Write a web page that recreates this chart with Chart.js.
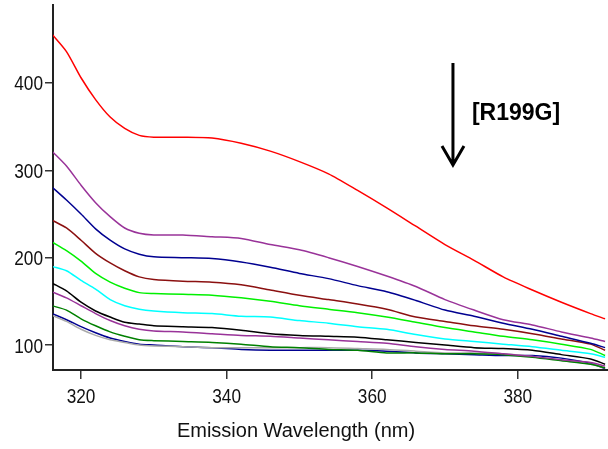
<!DOCTYPE html>
<html>
<head>
<meta charset="utf-8">
<script src="https://cdn.jsdelivr.net/npm/chart.js@4.4.1/dist/chart.umd.min.js"></script>
<style>
  html, body { margin: 0; padding: 0; background: #fff; }
  #chart { display: block; }
</style>
</head>
<body>
<canvas id="chart" width="608" height="449"></canvas>
<script>
// emission wavelengths (nm)
const wavelengths = [316, 318, 320, 322, 324, 326, 328, 330, 334, 338, 342, 346, 350, 354, 358, 362, 366, 370, 374, 378, 382, 386, 390, 392];

// fluorescence spectra, top to bottom
const redSeries    = [456, 436, 406, 381, 361, 348, 340, 338, 338, 337, 331, 322, 310, 296, 277, 257, 236, 215, 197, 178, 163, 149, 136, 130];
const purpleSeries = [322, 305, 283, 263, 247, 234, 228, 226, 226, 224, 222, 215, 209, 200, 190, 179, 167, 152, 140, 129, 123, 115, 108, 104];
const navySeries   = [281, 266, 250, 233, 220, 210, 204, 201, 200, 199, 195, 189, 182, 176, 168, 161, 151, 140, 133, 125, 118, 110, 102, 97];
const maroonSeries = [243, 234, 220, 205, 194, 185, 178, 175, 173, 172, 169, 163, 157, 152, 147, 141, 132, 127, 122, 118, 113, 107, 101, 94];
const limeSeries   = [218, 208, 196, 182, 172, 165, 160, 159, 158, 157, 154, 150, 145, 141, 137, 132, 126, 120, 115, 110, 106, 101, 95, 88];
const cyanSeries   = [190, 185, 174, 164, 152, 145, 141, 139, 137, 136, 133, 132, 128, 125, 121, 118, 112, 107, 104, 101, 98, 94, 90, 86];
const blackSeries  = [171, 162, 149, 139, 132, 126, 124, 122, 121, 120, 117, 113, 111, 110, 109, 106, 103, 100, 97, 96, 94, 89, 84, 78];
const violetSeries = [161, 154, 145, 136, 128, 122, 118, 116, 115, 113, 111, 110, 108, 106, 104, 102, 98, 95, 93, 90, 87, 83, 80, 76];
const greenSeries  = [145, 140, 130, 122, 115, 110, 106, 105, 104, 103, 101, 98, 97, 95, 94, 91, 91, 90, 90, 89, 86, 82, 78, 74];
const graySeries   = [134, 127, 118, 111, 106, 103, 100, 99, 98, 97, 97, 97, 97, 97, 96, 95, 93, 91, 91, 90, 87, 83, 78, 74];
const blueSeries   = [136, 129, 121, 114, 108, 104, 101, 100, 98, 97, 95, 94, 94, 94, 94, 93, 91, 90, 89, 88, 88, 85, 79, 73];

const seriesList = [redSeries, purpleSeries, navySeries, maroonSeries, limeSeries, cyanSeries,
                    blackSeries, violetSeries, greenSeries, graySeries, blueSeries];
const seriesColors = ['#ff0000', '#993399', '#000090', '#8b1010', '#00f000', '#00ffff',
                      '#000000', '#993399', '#008000', '#aaaaaa', '#000090'];

const xTicks = [320, 340, 360, 380];
const yTicks = [100, 200, 300, 400];
const xTitle = 'Emission Wavelength (nm)';
const noteLabel = '[R199G]';

// condensed tick labels (no narrow font installed, so squeeze Liberation Sans)
function narrowText(ctx, text, x, y, align) {
    const sx = 0.82;
    ctx.save();
    ctx.translate(x, y);
    ctx.scale(sx, 1);
    ctx.textAlign = align;
    ctx.fillText(text, 0, 0);
    ctx.restore();
}

// tick labels, axis title, arrow and the [R199G] label
const extras = {
    id: 'extras',
    afterDraw(c) {
        const ctx = c.ctx;
        const xs = c.scales.x, ys = c.scales.y;
        ctx.save();
        ctx.fillStyle = '#111';
        ctx.font = "21px 'Liberation Sans', Arial, sans-serif";
        ctx.textBaseline = 'alphabetic';
        yTicks.forEach(v => narrowText(ctx, String(v), 43, ys.getPixelForValue(v) + 7.5, 'right'));
        xTicks.forEach(v => narrowText(ctx, String(v), xs.getPixelForValue(v), 403, 'center'));

        ctx.font = "20px 'Liberation Sans', Arial, sans-serif";
        ctx.textAlign = 'center';
        ctx.fillText(xTitle, 296, 437);

        const ax = xs.getPixelForValue(371.1);
        const yTop = ys.getPixelForValue(423);
        const yTip = ys.getPixelForValue(306);
        ctx.strokeStyle = '#000';
        ctx.lineWidth = 3;
        ctx.beginPath();
        ctx.moveTo(ax, yTop);
        ctx.lineTo(ax, yTip - 1);
        ctx.moveTo(ax - 11, yTip - 19);
        ctx.lineTo(ax, yTip);
        ctx.lineTo(ax + 11, yTip - 19);
        ctx.stroke();

        ctx.font = "bold 23px 'Liberation Sans', Arial, sans-serif";
        ctx.textAlign = 'left';
        ctx.fillStyle = '#000';
        ctx.fillText(noteLabel, xs.getPixelForValue(373.7), ys.getPixelForValue(357.6));
        ctx.restore();
    }
};

new Chart(document.getElementById('chart').getContext('2d'), {
    type: 'line',
    data: {
        datasets: seriesList.map((s, i) => ({
            data: s.map((v, j) => ({ x: wavelengths[j], y: v })),
            borderColor: seriesColors[i],
            borderWidth: 1.5,
            pointRadius: 0,
            tension: 0.25,
            fill: false
        }))
    },
    options: {
        responsive: false,
        animation: false,
        devicePixelRatio: 1,
        layout: { padding: { top: 5, right: 0, left: 0, bottom: 0 } },
        plugins: { legend: { display: false }, tooltip: { enabled: false } },
        scales: {
            x: {
                type: 'linear',
                min: 316.15,
                max: 392.4,
                afterFit: s => { s.height = 79; s.paddingLeft = 0; s.paddingRight = 0; },
                afterBuildTicks: s => { s.ticks = xTicks.map(v => ({ value: v })); },
                border: { color: '#222', width: 2 },
                grid: { drawOnChartArea: false, drawTicks: true, tickLength: 9, color: '#333', lineWidth: 1.5 },
                ticks: { display: false }
            },
            y: {
                min: 71.4,
                max: 489.3,
                afterFit: s => { s.width = 53; s.paddingTop = 0; s.paddingBottom = 0; },
                afterBuildTicks: s => { s.ticks = yTicks.map(v => ({ value: v })); },
                border: { color: '#222', width: 2 },
                grid: { drawOnChartArea: false, drawTicks: true, tickLength: 8, color: '#333', lineWidth: 1.5 },
                ticks: { display: false }
            }
        }
    },
    plugins: [extras]
});
</script>
</body>
</html>
